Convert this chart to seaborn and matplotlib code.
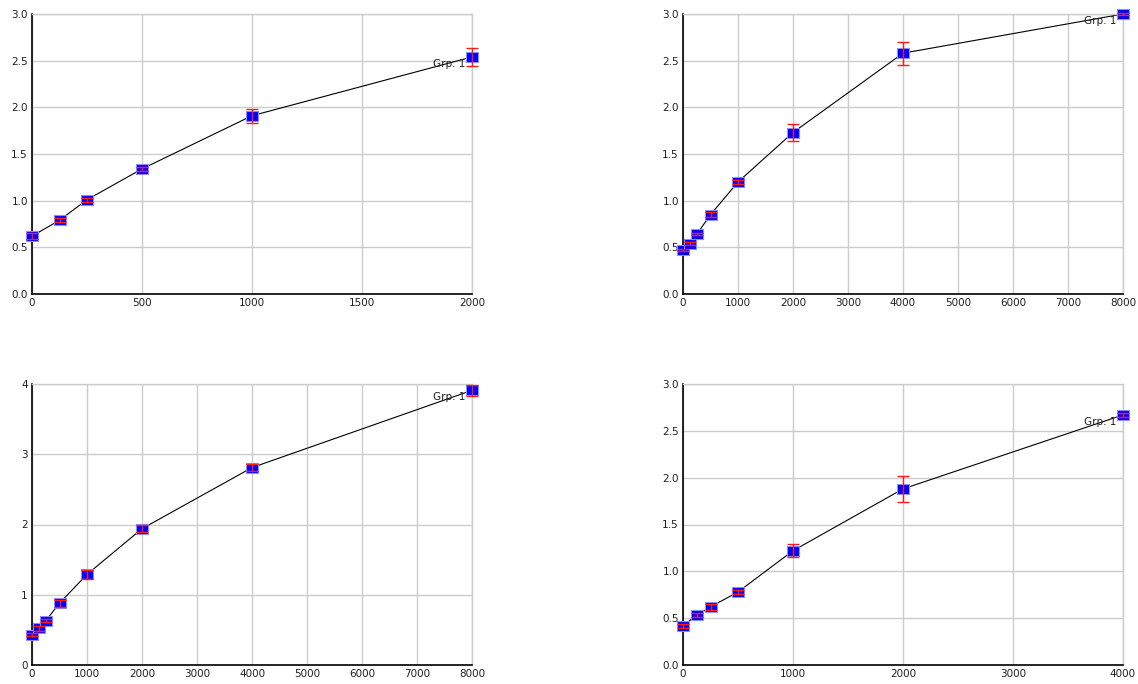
import matplotlib
matplotlib.use("Agg")
import matplotlib.pyplot as plt
import seaborn as sns

# ───────────────────────
# Data
# ───────────────────────
x_a = [0, 125, 250, 500, 1000, 2000]
y_a = [0.62, 0.79, 1.01, 1.34, 1.91, 2.54]
e_a = [0.03, 0.02, 0.02, 0.02, 0.075, 0.10]

x_b = [0, 125, 250, 500, 1000, 2000, 4000, 8000]
y_b = [0.47, 0.54, 0.64, 0.85, 1.20, 1.73, 2.58, 3.00]
e_b = [0.01, 0.02, 0.01, 0.03, 0.02, 0.09, 0.125, 0.01]

x_c = [0, 125, 250, 500, 1000, 2000, 4000, 8000]
y_c = [0.43, 0.52, 0.63, 0.88, 1.29, 1.94, 2.81, 3.91]
e_c = [0.02, 0.03, 0.02, 0.05, 0.06, 0.05, 0.05, 0.08]

x_d = [0, 125, 250, 500, 1000, 2000, 4000]
y_d = [0.42, 0.53, 0.62, 0.78, 1.22, 1.88, 2.67]
e_d = [0.02, 0.02, 0.03, 0.02, 0.07, 0.14, 0.02]

group_label = "Grp. 1"

panels = [
    (x_a, y_a, e_a, 2000, 500, 3.0, 0.5, "{:.1f}"),
    (x_b, y_b, e_b, 8000, 1000, 3.0, 0.5, "{:.1f}"),
    (x_c, y_c, e_c, 8000, 1000, 4.0, 1.0, "{:.0f}"),
    (x_d, y_d, e_d, 4000, 1000, 3.0, 0.5, "{:.1f}"),
]

# ───────────────────────
# Style
# ───────────────────────
sns.set_style("white")
plt.rcParams.update({
    "font.family": ["DejaVu Sans"],
    "font.size": 7.5,
})

W, H = 1138, 684
fig = plt.figure(figsize=(W / 100, H / 100), dpi=100)

# axes boxes in pixels: left, top, right, bottom
boxes = [
    (32, 14, 472, 294),
    (683, 14, 1123, 294),
    (32, 384, 472, 665),
    (683, 384, 1123, 665),
]

# slightly wide rectangle marker
rect = [(-1.0, -0.8), (1.0, -0.8), (1.0, 0.8), (-1.0, 0.8), (-1.0, -0.8)]

for (xs, ys, es, xmax, xstep, ymax, ystep, fmt), (l, t, r, b) in zip(panels, boxes):
    ax = fig.add_axes([l / W, 1 - b / H, (r - l) / W, (b - t) / H])
    sns.lineplot(x=xs, y=ys, ax=ax, color="black", linewidth=0.8, zorder=2)
    sns.scatterplot(x=xs, y=ys, ax=ax, marker=rect, s=85, color="#0000ff",
                    edgecolor="#8c8cff", linewidth=0.8, zorder=3)
    ax.errorbar(xs, ys, yerr=es, fmt="none", ecolor="#ff1a1a", elinewidth=1.0,
                capsize=4.5, capthick=1.0, zorder=4)
    ax.annotate(group_label, xy=(xs[-1], ys[-1]), xytext=(-5, -5),
                textcoords="offset points", ha="right", va="center",
                fontsize=7.5, color="#202020", zorder=5)

    ax.set_xlim(0, xmax)
    ax.set_ylim(0, ymax)
    xt = list(range(0, xmax + 1, xstep))
    ax.set_xticks(xt)
    ax.set_xticklabels([str(v) for v in xt])
    n = int(round(ymax / ystep))
    yt = [i * ystep for i in range(n + 1)]
    ax.set_yticks(yt)
    ax.set_yticklabels([fmt.format(v) for v in yt])
    ax.grid(True, color="#cccccc", linewidth=1.0)
    ax.set_axisbelow(True)
    for side in ["top", "right"]:
        ax.spines[side].set_color("#cccccc")
        ax.spines[side].set_linewidth(1.0)
    for side in ["left", "bottom"]:
        ax.spines[side].set_color("black")
        ax.spines[side].set_linewidth(1.2)
    ax.tick_params(length=0, pad=3, labelsize=7.5, colors="#202020")
    ax.set_xlabel("")
    ax.set_ylabel("")
    for c in ax.collections:
        c.set_clip_on(False)
    for ln in ax.lines:
        ln.set_clip_on(False)

fig.savefig("out.png", dpi=100)
